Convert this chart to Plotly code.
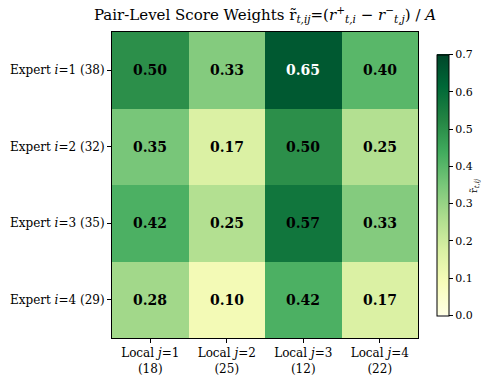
import plotly.graph_objects as go

rows = ["Expert <i>i</i>=1 (38)", "Expert <i>i</i>=2 (32)", "Expert <i>i</i>=3 (35)", "Expert <i>i</i>=4 (29)"]
cols = ["Local <i>j</i>=1<br>(18)", "Local <i>j</i>=2<br>(25)", "Local <i>j</i>=3<br>(12)", "Local <i>j</i>=4<br>(22)"]
values = [
    [0.50, 0.33, 0.65, 0.40],
    [0.35, 0.17, 0.50, 0.25],
    [0.42, 0.25, 0.57, 0.33],
    [0.28, 0.10, 0.42, 0.17],
]
cbar_ticks = [0.0, 0.1, 0.2, 0.3, 0.4, 0.5, 0.6, 0.7]

ylgn = ["#ffffe5", "#f7fcb9", "#d9f0a3", "#addd8e", "#78c679",
        "#41ab5d", "#238443", "#006837", "#004529"]
cs = [[k / (len(ylgn) - 1), c] for k, c in enumerate(ylgn)]

font = "DejaVu Serif"
W, H = 492, 376

fig = go.Figure(go.Heatmap(
    z=values, x=cols, y=rows, zmin=0, zmax=0.7, colorscale=cs,
    xgap=0, ygap=0,
    colorbar=dict(
        x=1.062, xanchor="left", xpad=0, y=0.5, yanchor="middle",
        len=0.853, lenmode="fraction", thickness=12, ypad=0,
        outlinewidth=1, outlinecolor="black",
        tickvals=cbar_ticks, ticktext=[f"{v:.1f}" for v in cbar_ticks],
        ticks="outside", ticklen=4, tickcolor="black",
        tickfont=dict(family=font, size=11, color="black"),
    ),
    hoverinfo="skip",
))

annotations = []
for r, row in enumerate(values):
    for c, v in enumerate(row):
        annotations.append(dict(
            x=cols[c], y=rows[r], text=f"<b>{v:.2f}</b>", showarrow=False,
            font=dict(family=font, size=14, color="white" if v > 0.6 else "black"),
        ))
annotations.append(dict(
    x=1.183, y=0.5, xref="paper", yref="paper", xanchor="center", yanchor="middle",
    text="r̃<sub><i>t,ij</i></sub>", textangle=-90, showarrow=False,
    font=dict(family=font, size=10, color="black"),
))

fig.update_layout(
    width=W, height=H,
    margin=dict(l=112, r=74, t=32, b=38, autoexpand=False),
    paper_bgcolor="white", plot_bgcolor="white",
    title=dict(
        text="Pair-Level Score Weights r̃<sub><i>t,ij</i></sub>=(<i>r</i><sup>+</sup><sub><i>t,i</i></sub> − <i>r</i><sup>−</sup><sub><i>t,j</i></sub>) / <i>A</i>",
        x=0.5, xanchor="center", xref="paper", yref="container",
        y=1 - 15 / H, yanchor="middle",
        font=dict(family=font, size=15, color="black"),
    ),
    annotations=annotations,
    font=dict(family=font, color="black"),
)
fig.update_xaxes(
    showline=True, linecolor="black", linewidth=1, mirror=True,
    ticks="outside", ticklen=4, tickcolor="black",
    tickfont=dict(family=font, size=12, color="black"),
    showgrid=False, zeroline=False,
)
fig.update_yaxes(
    autorange="reversed",
    showline=True, linecolor="black", linewidth=1, mirror=True,
    ticks="outside", ticklen=4, tickcolor="black",
    tickfont=dict(family=font, size=12, color="black"),
    showgrid=False, zeroline=False,
)

fig.write_html("out.html", config={"displayModeBar": False},
               post_script="document.body.style.margin='0';")
